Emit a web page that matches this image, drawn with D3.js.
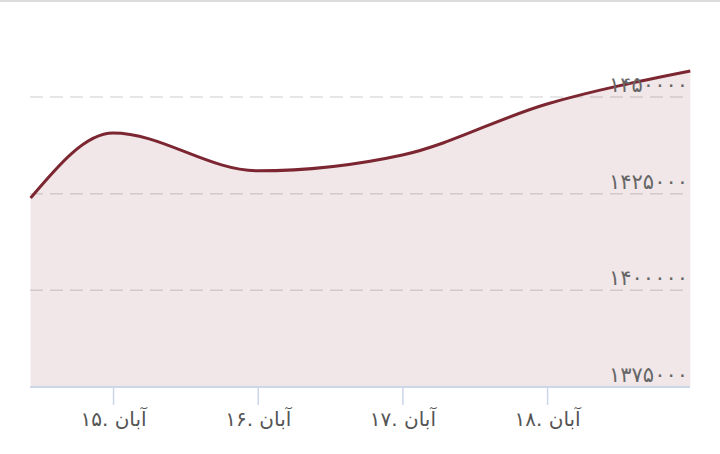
<!DOCTYPE html>
<html>
<head>
<meta charset="utf-8">
<script src="https://cdn.jsdelivr.net/npm/d3@7"></script>
<style>
  body { margin: 0; background: #fff; }
  svg { display: block; font-family: "DejaVu Sans", sans-serif; }
</style>
</head>
<body>
<div id="visContainer"></div>
<script>
// day of month (Aban), fractional
var days = [14.43, 15, 16, 17, 18, 18.99];
var values = [1423900, 1440700, 1430900, 1435000, 1448200, 1456700];
var xTicks = [15, 16, 17, 18];
var xTickLabels = ["۱۵. آبان", "۱۶. آبان", "۱۷. آبان", "۱۸. آبان"];
var yTicks = [1375000, 1400000, 1425000, 1450000];
var yTickLabels = ["۱۳۷۵۰۰۰", "۱۴۰۰۰۰۰", "۱۴۲۵۰۰۰", "۱۴۵۰۰۰۰"];

var width = 720, height = 454;
var plotLeft = 30, plotRight = 690, plotTop = 97, plotBottom = 387;

var svg = d3.select("#visContainer").append("svg")
    .attr("width", width)
    .attr("height", height);

// thin frame line at the top
svg.append("rect")
    .attr("x", 0).attr("y", 0)
    .attr("width", width).attr("height", 2)
    .attr("fill", "#dcdcdc");

var x = d3.scaleLinear()
    .domain([14.426, 18.988])
    .range([plotLeft, plotRight]);

var y = d3.scaleLinear()
    .domain([1375000, 1450000])
    .range([plotBottom, plotTop]);

var data = days.map(function(d, i) { return {day: d, v: values[i]}; });

// grid
svg.append("g")
  .selectAll("line")
  .data(yTicks.slice(1))
  .enter().append("line")
    .attr("x1", plotLeft).attr("x2", plotRight)
    .attr("y1", function(d) { return y(d); })
    .attr("y2", function(d) { return y(d); })
    .attr("stroke", "#dedede")
    .attr("stroke-width", 1.5)
    .attr("stroke-dasharray", "13,7");

var area = d3.area()
    .x(function(d) { return x(d.day); })
    .y0(plotBottom)
    .y1(function(d) { return y(d.v); })
    .curve(d3.curveMonotoneX);

var line = d3.line()
    .x(function(d) { return x(d.day); })
    .y(function(d) { return y(d.v); })
    .curve(d3.curveMonotoneX);

svg.append("path")
    .datum(data)
    .attr("d", area)
    .attr("fill", "#7c2631")
    .attr("fill-opacity", 0.11);

svg.append("path")
    .datum(data)
    .attr("d", line)
    .attr("fill", "none")
    .attr("stroke", "#7c2631")
    .attr("stroke-width", 3);

// x axis
var xAxis = svg.append("g")
    .attr("transform", "translate(0," + plotBottom + ")")
    .call(d3.axisBottom(x)
        .tickValues(xTicks)
        .tickSize(18)
        .tickPadding(7)
        .tickFormat(function(d, i) { return xTickLabels[i]; }));

xAxis.select(".domain")
    .attr("d", "M" + plotLeft + ",0H" + plotRight)
    .attr("stroke", "#ccd6eb")
    .attr("stroke-width", 2);
xAxis.selectAll(".tick line").attr("stroke", "#ccd6eb").attr("stroke-width", 1.5);
xAxis.selectAll(".tick text")
    .attr("fill", "#555")
    .style("font-size", "20px")
    .style("font-family", "\"DejaVu Sans\", sans-serif");

// y labels on the right, sitting above the grid lines
svg.append("g")
  .selectAll("text")
  .data(yTicks)
  .enter().append("text")
    .attr("x", 688)
    .attr("y", function(d) { return y(d) - 5; })
    .attr("text-anchor", "end")
    .attr("fill", "#666")
    .style("font-size", "21px")
    .text(function(d, i) { return yTickLabels[i]; });
</script>
</body>
</html>
